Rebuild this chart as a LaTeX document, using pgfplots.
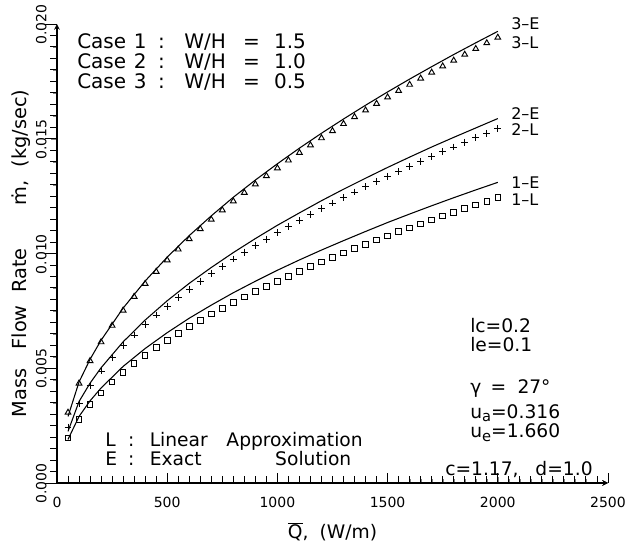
\documentclass[border=0pt]{standalone}
\usepackage{pgfplots}
\pgfplotsset{compat=1.18}
\usepackage{fontspec}
\setmainfont{DejaVu Sans}
\newcommand{\fs}[1]{\fontsize{#1}{#1}\selectfont}
\pgfplotsset{
  chartframe/.style={
    scale only axis, width=413.25pt, height=344.25pt,
    xmin=0, xmax=2500, ymin=0, ymax=0.02,
    axis line style={-, line width=0.9pt},
  }
}
\begin{document}
\begin{tikzpicture}
% y axis and the data
\begin{axis}[
  chartframe,
  axis lines=left,
  xtick=\empty,
  ytick={0,0.005,0.01,0.015,0.02},
  minor y tick num=9,
  tick align=outside,
  scaled y ticks=false,
  yticklabel style={/pgf/number format/.cd, fixed, fixed zerofill, precision=3, assume math mode=true, /tikz/.cd,
    rotate=90, anchor=south, xshift=-0.5pt, font=\fs{10.5}},
  ylabel={Mass\hspace{1em}Flow\hspace{0.65em}Rate\hspace{2.2em}ṁ,\hspace{0.7em}(kg/sec)},
  ylabel style={at={(axis description cs:-0.0653,0.5)}, anchor=center, font=\fs{14.5}},
  clip=false,
]
% exact solutions
\addplot[black, line width=0.8pt] coordinates {
(50,0.00190)(100,0.00290)(150,0.00358)(200,0.00414)(300,0.00508)(400,0.00586)(500,0.00655)(600,0.00718)(700,0.00775)(800,0.00829)(900,0.00879)(1000,0.00927)(1100,0.00972)(1200,0.01015)(1300,0.01056)(1400,0.01096)(1500,0.01135)(1600,0.01172)(1700,0.01208)(1800,0.01243)(1900,0.01277)(2000,0.01310)};
\addplot[black, line width=0.8pt] coordinates {
(50,0.00225)(100,0.00355)(150,0.00435)(200,0.00502)(300,0.00615)(400,0.00710)(500,0.00794)(600,0.00870)(700,0.00939)(800,0.01004)(900,0.01065)(1000,0.01123)(1100,0.01177)(1200,0.01230)(1300,0.01280)(1400,0.01328)(1500,0.01375)(1600,0.01420)(1700,0.01464)(1800,0.01506)(1900,0.01547)(2000,0.01588)};
\addplot[black, line width=0.8pt] coordinates {
(50,0.00290)(100,0.00440)(150,0.00539)(200,0.00622)(300,0.00762)(400,0.00880)(500,0.00984)(600,0.01078)(700,0.01164)(800,0.01245)(900,0.01320)(1000,0.01391)(1100,0.01459)(1200,0.01524)(1300,0.01586)(1400,0.01646)(1500,0.01704)(1600,0.01760)(1700,0.01814)(1800,0.01867)(1900,0.01918)(2000,0.01968)};
% linear approximation
\addplot[only marks, mark=square, mark size=2.1pt, mark options={line width=0.7pt}] coordinates {
(50,0.00197)(100,0.00278)(150,0.00341)(200,0.00393)(250,0.00440)(300,0.00482)(350,0.00520)(400,0.00556)(450,0.00590)(500,0.00622)
(550,0.00652)(600,0.00681)(650,0.00709)(700,0.00736)(750,0.00761)(800,0.00786)(850,0.00811)(900,0.00834)(950,0.00857)(1000,0.00879)
(1050,0.00901)(1100,0.00922)(1150,0.00943)(1200,0.00963)(1250,0.00983)(1300,0.01002)(1350,0.01021)(1400,0.01040)(1450,0.01059)(1500,0.01077)
(1550,0.01095)(1600,0.01112)(1650,0.01129)(1700,0.01146)(1750,0.01163)(1800,0.01180)(1850,0.01196)(1900,0.01212)(1950,0.01228)(2000,0.01243)};
\addplot[only marks, mark=+, mark size=2.6pt, mark options={line width=0.7pt}] coordinates {
(50,0.00244)(100,0.00345)(150,0.00423)(200,0.00488)(250,0.00546)(300,0.00598)(350,0.00645)(400,0.00690)(450,0.00732)(500,0.00771)
(550,0.00809)(600,0.00845)(650,0.00880)(700,0.00913)(750,0.00945)(800,0.00976)(850,0.01006)(900,0.01035)(950,0.01063)(1000,0.01091)
(1050,0.01118)(1100,0.01144)(1150,0.01170)(1200,0.01195)(1250,0.01220)(1300,0.01244)(1350,0.01268)(1400,0.01291)(1450,0.01314)(1500,0.01336)
(1550,0.01358)(1600,0.01380)(1650,0.01401)(1700,0.01422)(1750,0.01443)(1800,0.01464)(1850,0.01484)(1900,0.01504)(1950,0.01524)(2000,0.01543)};
\addplot[only marks, mark=triangle, mark size=2.5pt, mark options={line width=0.7pt}] coordinates {
(50,0.00307)(100,0.00434)(150,0.00532)(200,0.00614)(250,0.00686)(300,0.00752)(350,0.00812)(400,0.00868)(450,0.00921)(500,0.00971)
(550,0.01018)(600,0.01063)(650,0.01107)(700,0.01148)(750,0.01189)(800,0.01228)(850,0.01265)(900,0.01302)(950,0.01338)(1000,0.01372)
(1050,0.01406)(1100,0.01439)(1150,0.01472)(1200,0.01503)(1250,0.01534)(1300,0.01565)(1350,0.01595)(1400,0.01624)(1450,0.01653)(1500,0.01681)
(1550,0.01709)(1600,0.01736)(1650,0.01763)(1700,0.01789)(1750,0.01816)(1800,0.01841)(1850,0.01867)(1900,0.01892)(1950,0.01917)(2000,0.01941)};
% annotations
\begin{scope}[every node/.style={inner sep=0pt, anchor=base west}]
\node[font=\fs{15}] at (axis cs:90.7,0.018953) {Case\hspace{5.7pt}1\hspace{8.8pt}:\hspace{14.6pt}W/H\hspace{12.9pt}=\hspace{10.6pt}1.5};
\node[font=\fs{15}] at (axis cs:90.7,0.018082) {Case\hspace{5.7pt}2\hspace{8.8pt}:\hspace{14.6pt}W/H\hspace{12.9pt}=\hspace{10.6pt}1.0};
\node[font=\fs{15}] at (axis cs:90.7,0.017211) {Case\hspace{5.7pt}3\hspace{8.8pt}:\hspace{14.6pt}W/H\hspace{12.9pt}=\hspace{10.6pt}0.5};
\node[font=\fs{14}] at (axis cs:217.8,0.001582) {\makebox[17.2pt][l]{L}:\hspace{11.5pt}Linear\hspace{1em}Approximation};
\node[font=\fs{14}] at (axis cs:217.8,0.000784) {\makebox[17.2pt][l]{E}:\hspace{11.5pt}Exact};
\node[font=\fs{14}] at (axis cs:989,0.000784) {Solution};
\node[font=\fs{14}] at (axis cs:1873.9,0.006579) {lc=0.2};
\node[font=\fs{14}] at (axis cs:1873.9,0.005751) {le=0.1};
\node[font=\fs{14}] at (axis cs:1873.9,0.003878) {γ\hspace{0.5em}=\hspace{0.6em}27°};
\node[font=\fs{14}] at (axis cs:1873.9,0.002832) {u\raisebox{-0.35ex}{\fs{11}a}=0.316};
\node[font=\fs{14}] at (axis cs:1873.9,0.001961) {u\raisebox{-0.35ex}{\fs{11}e}=1.660};
\node[font=\fs{14}] at (axis cs:1760.4,0.000305) {c=1.17,\hspace{0.9em}d=1.0};
\node[font=\fs{12}] at (axis cs:2060,0.01978) {3--E};
\node[font=\fs{12}] at (axis cs:2060,0.018953) {3--L};
\node[font=\fs{12}] at (axis cs:2060,0.01586) {2--E};
\node[font=\fs{12}] at (axis cs:2060,0.01512) {2--L};
\node[font=\fs{12}] at (axis cs:2060,0.012853) {1--E};
\node[font=\fs{12}] at (axis cs:2060,0.012112) {1--L};
\end{scope}
\end{axis}
% x axis
\begin{axis}[
  chartframe,
  axis x line=bottom, axis y line=none,
  ytick=\empty,
  xtick={0,500,1000,1500,2000,2500},
  minor x tick num=9,
  tick align=inside,
  xticklabel style={/pgf/number format/1000 sep={}, /pgf/number format/assume math mode=true,
    yshift=-7pt, font=\fs{10.5}},
  xlabel={$\overline{\mbox{Q}}$,\hspace{0.6em}(W/m)},
  xlabel style={at={(axis description cs:0.5,0)}, anchor=base, yshift=-42pt, font=\fs{14}},
]
\end{axis}
% tick marks: x inward every 50 W/m, y outward every 0.0005 kg/sec
\foreach \i in {0,...,50} {
  \pgfmathsetmacro\len{ifthenelse(mod(\i,10)==0,7.5,5)}
  \draw[line width=0.7pt] ([xshift=\i*8.265pt]current axis.south west) -- ++(0,\len pt);
}
\foreach \j in {0,...,40} {
  \pgfmathsetmacro\len{ifthenelse(mod(\j,10)==0,8.75,5.5)}
  \draw[line width=0.7pt] ([yshift=\j*8.60625pt]current axis.south west) -- ++(-\len pt,0);
}
\pgfresetboundingbox
\path[use as bounding box] ([shift={(-42.75pt,-47.25pt)}]current axis.south west) rectangle ([shift={(426.75pt,362.25pt)}]current axis.south west);
\end{tikzpicture}
\end{document}
